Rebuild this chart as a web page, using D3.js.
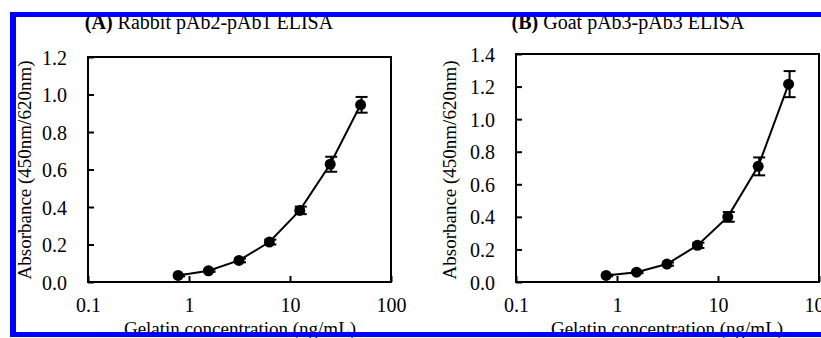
<!DOCTYPE html>
<html>
<head>
<meta charset="utf-8">
<script src="https://cdn.jsdelivr.net/npm/d3@7"></script>
<style>
  body { margin: 0; background: #fff; }
  svg { display: block; }
</style>
</head>
<body>
<div id="chart"></div>
<script>
// gelatin dilution series (ng/mL)
const concentrations = [0.78, 1.56, 3.125, 6.25, 12.5, 25, 50];

// (A) rabbit pAb2-pAb1
const absA = [0.035, 0.06, 0.115, 0.213, 0.382, 0.628, 0.945];
const errA = [0.005, 0.006, 0.01, 0.013, 0.02, 0.04, 0.042];

// (B) goat pAb3-pAb3
const absB = [0.04, 0.06, 0.11, 0.225, 0.40, 0.71, 1.215];
const errB = [0.005, 0.006, 0.01, 0.016, 0.03, 0.055, 0.08];

const xTicks = [0.1, 1, 10, 100];
const yTicksA = [0, 0.2, 0.4, 0.6, 0.8, 1.0, 1.2];
const yTicksB = [0, 0.2, 0.4, 0.6, 0.8, 1.0, 1.2, 1.4];

const W = 821, H = 338;
const font = "'Liberation Serif', 'Times New Roman', serif";

const svg = d3.select("#chart").append("svg")
  .attr("width", W)
  .attr("height", H);

const panels = [
  { tag: "(A)", title: " Rabbit pAb2-pAb1 ELISA", values: absA, errs: errA, yTicks: yTicksA,
    left: 88, right: 391, top: 57, bottom: 282, titleX: 209, ylabX: 31, xlabX: 240 },
  { tag: "(B)", title: " Goat pAb3-pAb3 ELISA", values: absB, errs: errB, yTicks: yTicksB,
    left: 516, right: 819, top: 54, bottom: 282, titleX: 628, ylabX: 456, xlabX: 667 }
];

panels.forEach(p => drawPanel(p));

function drawPanel(p) {
  const x = d3.scaleLog().domain([0.1, 100]).range([p.left, p.right]);
  const y = d3.scaleLinear().domain([0, d3.max(p.yTicks)]).range([p.bottom, p.top]);
  const g = svg.append("g");

  // frame
  g.append("rect")
    .attr("x", p.left).attr("y", p.top)
    .attr("width", p.right - p.left).attr("height", p.bottom - p.top)
    .attr("fill", "none").attr("stroke", "#000").attr("stroke-width", 2);

  // x axis (ticks point inward)
  const xAxis = g.append("g")
    .attr("transform", "translate(0," + p.bottom + ")")
    .call(d3.axisBottom(x).tickValues(xTicks).tickSize(-6).tickSizeOuter(0)
      .tickFormat(d => d3.format("~g")(d)));
  xAxis.select(".domain").remove();
  xAxis.selectAll("line").attr("stroke", "#000").attr("stroke-width", 2);
  xAxis.selectAll("text")
    .attr("y", 30).attr("dy", 0)
    .attr("font-family", font).attr("font-size", 20).attr("fill", "#000");

  // y axis
  const yAxis = g.append("g")
    .attr("transform", "translate(" + p.left + ",0)")
    .call(d3.axisLeft(y).tickValues(p.yTicks).tickSize(-6).tickSizeOuter(0)
      .tickFormat(d3.format(".1f")));
  yAxis.select(".domain").remove();
  yAxis.selectAll("line").attr("stroke", "#000").attr("stroke-width", 2);
  yAxis.selectAll("text")
    .attr("x", -21).attr("dy", "0.35em")
    .attr("font-family", font).attr("font-size", 20).attr("fill", "#000");

  const pts = concentrations.map((c, i) => ({ c: c, v: p.values[i], e: p.errs[i] }));

  // connecting line
  g.append("path")
    .datum(pts)
    .attr("fill", "none").attr("stroke", "#000").attr("stroke-width", 2)
    .attr("d", d3.line().x(d => x(d.c)).y(d => y(d.v)));

  // error bars
  const eb = g.selectAll(".eb").data(pts).enter().append("g");
  eb.append("line")
    .attr("x1", d => x(d.c) + 1).attr("x2", d => x(d.c) + 1)
    .attr("y1", d => y(d.v - d.e)).attr("y2", d => y(d.v + d.e))
    .attr("stroke", "#000").attr("stroke-width", 2);
  [-1, 1].forEach(s => {
    eb.append("line")
      .attr("x1", d => x(d.c) - 5).attr("x2", d => x(d.c) + 7)
      .attr("y1", d => y(d.v + s * d.e)).attr("y2", d => y(d.v + s * d.e))
      .attr("stroke", "#000").attr("stroke-width", 2);
  });

  // markers
  g.selectAll(".pt").data(pts).enter().append("circle")
    .attr("cx", d => x(d.c)).attr("cy", d => y(d.v))
    .attr("r", 5.5).attr("fill", "#000");

  // title
  const t = g.append("text")
    .attr("x", p.titleX).attr("y", 29)
    .attr("text-anchor", "middle")
    .attr("font-family", font).attr("font-size", 20).attr("fill", "#000");
  t.append("tspan").attr("font-weight", "bold").text(p.tag);
  t.append("tspan").text(p.title);

  // axis labels
  g.append("text")
    .attr("x", p.xlabX).attr("y", 335)
    .attr("text-anchor", "middle")
    .attr("font-family", font).attr("font-size", 19).attr("fill", "#000")
    .text("Gelatin concentration (ng/mL)");

  g.append("text")
    .attr("transform", "translate(" + p.ylabX + ",170) rotate(-90)")
    .attr("text-anchor", "middle")
    .attr("font-family", font).attr("font-size", 19).attr("fill", "#000")
    .text("Absorbance (450nm/620nm)");
}

// blue frame drawn on top
const blue = "#0000ff";
svg.append("rect").attr("x", 10).attr("y", 12).attr("width", W - 10).attr("height", 5).attr("fill", blue);
svg.append("rect").attr("x", 10).attr("y", 12).attr("width", 6).attr("height", 325).attr("fill", blue);
svg.append("rect").attr("x", 10).attr("y", 332).attr("width", W - 10).attr("height", 5).attr("fill", blue);
</script>
</body>
</html>
